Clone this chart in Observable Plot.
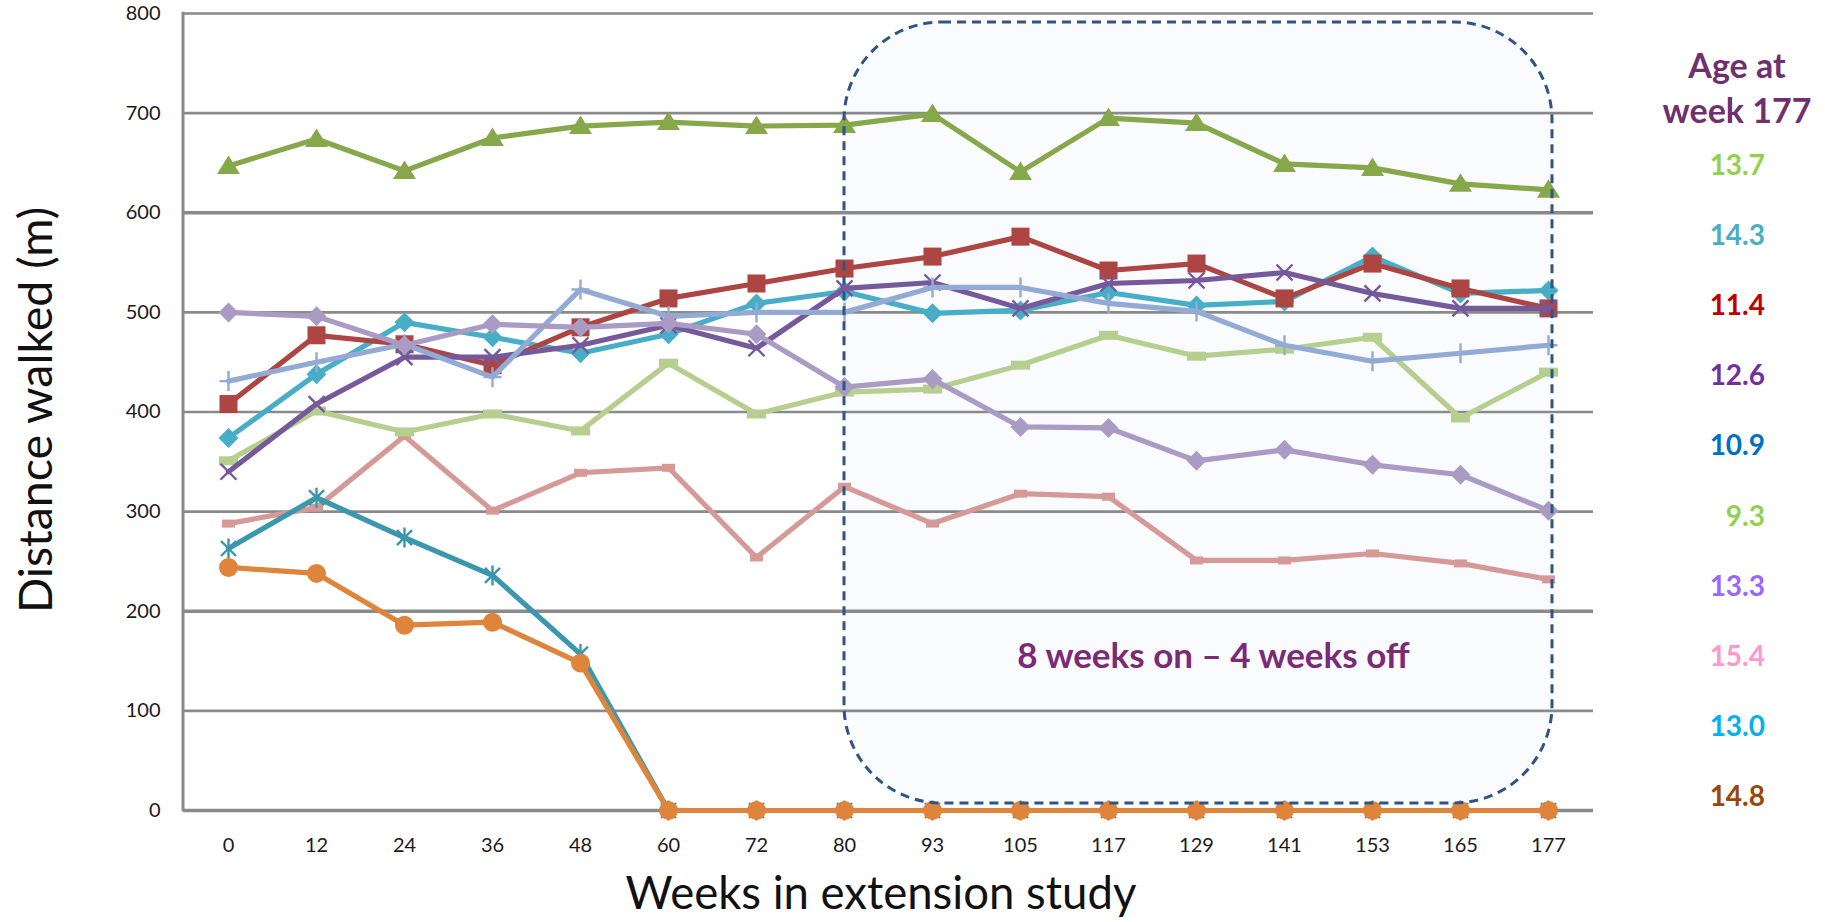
<!DOCTYPE html>
<html>
<head>
<meta charset="utf-8">
<script src="https://cdn.jsdelivr.net/npm/d3@7"></script>
<script src="https://cdn.jsdelivr.net/npm/@observablehq/plot@0.6"></script>
<style>
  html, body { margin: 0; padding: 0; background: #ffffff; }
  svg { display: block; }
</style>
</head>
<body>
<div id="chart"></div>
<script>
// ---- data ----
const weeks = [0, 12, 24, 36, 48, 60, 72, 80, 93, 105, 117, 129, 141, 153, 165, 177];
const yTicks = [0, 100, 200, 300, 400, 500, 600, 700, 800];

const greenTriangle   = [647, 674, 642, 675, 687, 691, 687, 688, 699, 641, 695, 690, 649, 645, 629, 623];
const redSquare       = [408, 477, 468, 447, 485, 514, 529, 544, 556, 576, 542, 549, 514, 549, 524, 504];
const cyanDiamond     = [374, 438, 490, 475, 459, 478, 509, 521, 499, 502, 520, 507, 511, 556, 519, 522];
const purpleCross     = [340, 408, 455, 455, 467, 487, 464, 524, 530, 504, 529, 532, 540, 519, 504, 504];
const bluePlus        = [431, 450, 468, 435, 523, 496, 500, 500, 525, 525, 509, 501, 467, 451, 459, 467];
const lavenderDiamond = [500, 496, 467, 488, 485, 489, 478, 425, 433, 385, 384, 351, 362, 347, 337, 301];
const lightGreenDash  = [351, 401, 380, 398, 381, 449, 398, 420, 423, 447, 477, 456, 463, 475, 394, 440];
const pinkDash        = [288, 304, 376, 301, 339, 344, 254, 325, 288, 318, 315, 251, 251, 258, 248, 232];
const tealAsterisk    = [263, 314, 274, 236, 157, 0, 0, 0, 0, 0, 0, 0, 0, 0, 0, 0];
const orangeCircle    = [244, 238, 186, 189, 148, 0, 0, 0, 0, 0, 0, 0, 0, 0, 0, 0];

const legendTitle = ["Age at", "week 177"];
const ageLabels = ["13.7", "14.3", "11.4", "12.6", "10.9", "9.3", "13.3", "15.4", "13.0", "14.8"];

const cycleStart = 80, cycleEnd = 177;
const cycleLabel = "8 weeks on \u2013 4 weeks off";
const xTitle = "Weeks in extension study";
const yTitle = "Distance walked (m)";

// ---- styles ----
const ageColors = ["#92d050", "#4bacc6", "#c00000", "#7030a0", "#0070c0", "#92d050", "#9966ff", "#ff99cc", "#00b0f0", "#984807"];

const sym = (fn) => ({draw(ctx) { fn(ctx); }});
const symTriangle = sym(c => { c.moveTo(0, -10.5); c.lineTo(11.5, 8); c.lineTo(-11.5, 8); c.closePath(); });
const symSquare = sym(c => { c.rect(-9, -9, 18, 18); });
const symDiamond = sym(c => { c.moveTo(0, -10); c.lineTo(10, 0); c.lineTo(0, 10); c.lineTo(-10, 0); c.closePath(); });
const symTimes = sym(c => { c.moveTo(-8, -8); c.lineTo(8, 8); c.moveTo(8, -8); c.lineTo(-8, 8); });
const symPlus = sym(c => { c.moveTo(0, -10); c.lineTo(0, 10); c.moveTo(-9, 0); c.lineTo(9, 0); });
const symAsterisk = sym(c => { c.moveTo(-7.5, -7.5); c.lineTo(7.5, 7.5); c.moveTo(7.5, -7.5); c.lineTo(-7.5, 7.5); c.moveTo(0, -10); c.lineTo(0, 10); });
const symCircle = sym(c => { c.moveTo(9.5, 0); c.arc(0, 0, 9.5, 0, 2 * Math.PI); });
const symDash = sym(c => { c.rect(-9.5, -4.5, 19, 9); });
const symDashSmall = sym(c => { c.rect(-6.5, -4, 13, 8); });

const rows = (arr) => weeks.map((w, i) => ({week: w, value: arr[i]}));

// draw order: bottom -> top
const series = [
  {values: pinkDash,        color: "#d59a98", symbol: symDashSmall, filled: true},
  {values: lightGreenDash,  color: "#b6cf8f", symbol: symDash,      filled: true},
  {values: tealAsterisk,    color: "#3b97ad", symbol: symAsterisk,  filled: false},
  {values: orangeCircle,    color: "#de853b", symbol: symCircle,    filled: true},
  {values: cyanDiamond,     color: "#48adc7", symbol: symDiamond,   filled: true},
  {values: redSquare,       color: "#ad4543", symbol: symSquare,    filled: true},
  {values: purpleCross,     color: "#76599b", symbol: symTimes,     filled: false},
  {values: bluePlus,        color: "#93abd4", symbol: symPlus,      filled: false},
  {values: lavenderDiamond, color: "#a99bc3", symbol: symDiamond,   filled: true},
  {values: greenTriangle,   color: "#86a84b", symbol: symTriangle,  filled: true}
];

const seriesMarks = [];
for (const s of series) {
  const data = rows(s.values);
  seriesMarks.push(Plot.line(data, {x: "week", y: "value", stroke: s.color, strokeWidth: 5.2, strokeLinejoin: "round", strokeLinecap: "round"}));
  seriesMarks.push(Plot.dot(data, {
    x: "week", y: "value", r: 8, symbol: s.symbol,
    fill: s.filled ? s.color : "none",
    stroke: s.color,
    strokeWidth: s.filled ? 0 : 2.4
  }));
}

const gridColor = "#8a8a8a";

const plot = Plot.plot({
  width: 1825,
  height: 922,
  marginLeft: 183,
  marginRight: 232,
  marginTop: 13,
  marginBottom: 112,
  style: {fontFamily: "Lato, 'Open Sans', sans-serif", fontSize: "20px", background: "#ffffff", color: "#1a1a1a"},
  x: {type: "point", domain: weeks, padding: 0.5},
  y: {domain: [0, 800]},
  marks: [
    Plot.rect([0], {x1: () => cycleStart, x2: () => cycleEnd, y1: () => 7, y2: () => 791, insetRight: -4, fill: "#f9fbfe", rx: 98}),
    Plot.ruleY(yTicks, {stroke: gridColor, strokeWidth: d => (d === 600 || d === 200 || d === 0) ? 3.4 : 2.6}),
    Plot.axisY({ticks: yTicks, tickSize: 0, tickPadding: 23, label: null, fontSize: 20, fill: "#1a1a1a"}),
    Plot.axisX({tickSize: 0, tickPadding: 27, label: null, fontSize: 20, fill: "#1a1a1a"}),
    ...seriesMarks,
    Plot.rect([0], {x1: () => cycleStart, x2: () => cycleEnd, y1: () => 7, y2: () => 791, insetRight: -4, fill: "none", stroke: "#2f5486", strokeWidth: 3, strokeDasharray: "9,6", rx: 98}),
    Plot.text([cycleLabel], {x: () => 129, y: () => 154.6, dx: 17, fontSize: 35, fontWeight: "bold", fill: "#7a2a77"})
  ]
});

const svg = d3.select(plot);
const xs = plot.scale("x"), ys = plot.scale("y");
const left = xs.range[0];

// y axis line
svg.append("line")
  .attr("x1", left).attr("x2", left)
  .attr("y1", ys.apply(800) - 1.3).attr("y2", ys.apply(0) + 1.3)
  .attr("stroke", gridColor).attr("stroke-width", 3);

// axis titles
svg.append("text")
  .attr("transform", `translate(52, 410) rotate(-90)`)
  .attr("text-anchor", "middle")
  .style("font-family", "Lato, sans-serif").style("font-size", "46.5px")
  .attr("fill", "#111").text(yTitle);
svg.append("text")
  .attr("x", 881).attr("y", 909)
  .attr("text-anchor", "middle")
  .style("font-family", "Lato, sans-serif").style("font-size", "45.5px")
  .attr("fill", "#111").text(xTitle);

// legend
const lg = svg.append("g").style("font-family", "Lato, sans-serif").style("font-weight", "bold");
legendTitle.forEach((t, i) => {
  lg.append("text").attr("x", 1737).attr("y", 78 + i * 45)
    .attr("text-anchor", "middle").style("font-size", "34px")
    .attr("fill", "#702f6e").text(t);
});
ageLabels.forEach((t, i) => {
  lg.append("text").attr("x", 1765).attr("y", 175 + i * 70.1)
    .attr("text-anchor", "end").style("font-size", "28px")
    .attr("fill", ageColors[i]).text(t);
});

document.getElementById("chart").appendChild(plot);
</script>
</body>
</html>
